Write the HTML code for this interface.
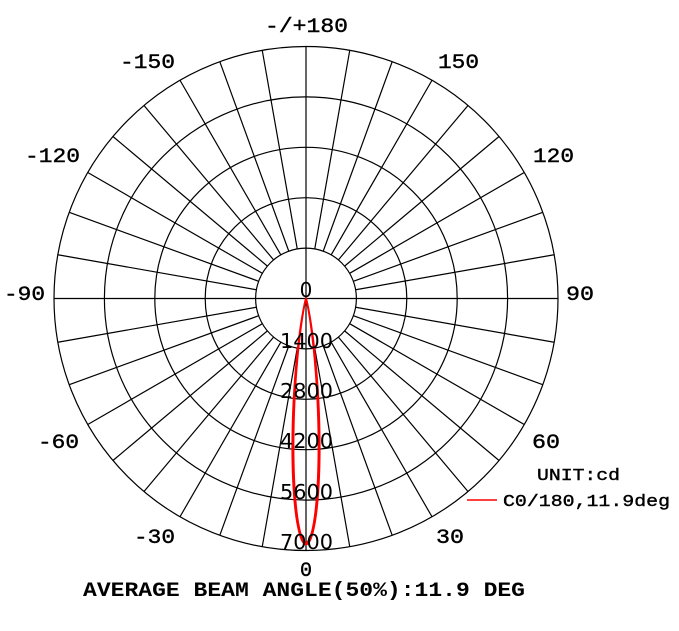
<!DOCTYPE html>
<html><head><meta charset="utf-8"><style>
html,body{margin:0;padding:0;background:#fff;}
svg{display:block;}
.t{font-family:"Liberation Mono","DejaVu Sans Mono",monospace;font-size:20px;fill:#000;stroke:#000;stroke-width:0.4;}
.r{font-family:"DejaVu Sans","Liberation Sans",sans-serif;font-size:20px;fill:#000;}
.b{font-family:"Liberation Mono",monospace;font-size:20px;font-weight:bold;fill:#000;}
</style></head><body>
<svg id="s" width="679" height="631" viewBox="0 0 679 631" xmlns="http://www.w3.org/2000/svg">
<g id="grid" stroke="#000" stroke-width="1.2" fill="none"></g>
<g id="curves" stroke="#f00" stroke-width="1.8" fill="none"></g>
<text class="t" x="265" y="32" textLength="83" lengthAdjust="spacingAndGlyphs">-/+180</text>
<text class="t" x="120" y="68" textLength="55" lengthAdjust="spacingAndGlyphs">-150</text>
<text class="t" x="438" y="68" textLength="41" lengthAdjust="spacingAndGlyphs">150</text>
<text class="t" x="25" y="162" textLength="55" lengthAdjust="spacingAndGlyphs">-120</text>
<text class="t" x="533" y="162" textLength="41" lengthAdjust="spacingAndGlyphs">120</text>
<text class="t" x="4" y="300" textLength="41" lengthAdjust="spacingAndGlyphs">-90</text>
<text class="t" x="566" y="300" textLength="28" lengthAdjust="spacingAndGlyphs">90</text>
<text class="t" x="38" y="448" textLength="41" lengthAdjust="spacingAndGlyphs">-60</text>
<text class="t" x="532" y="448" textLength="28" lengthAdjust="spacingAndGlyphs">60</text>
<text class="t" x="134" y="543" textLength="41" lengthAdjust="spacingAndGlyphs">-30</text>
<text class="t" x="436" y="543" textLength="28" lengthAdjust="spacingAndGlyphs">30</text>
<text class="t" x="306" y="576" text-anchor="middle">0</text>
<text class="r" x="306" y="297" text-anchor="middle">0</text>
<text class="r" x="280" y="348" textLength="53" lengthAdjust="spacingAndGlyphs">1400</text>
<text class="r" x="280" y="398" textLength="53" lengthAdjust="spacingAndGlyphs">2800</text>
<text class="r" x="280" y="448" textLength="53" lengthAdjust="spacingAndGlyphs">4200</text>
<text class="r" x="280" y="499" textLength="53" lengthAdjust="spacingAndGlyphs">5600</text>
<text class="r" x="280" y="549" textLength="53" lengthAdjust="spacingAndGlyphs">7000</text>
<text class="t" x="537" y="480" style="font-size:17px" textLength="83" lengthAdjust="spacingAndGlyphs">UNIT:cd</text>
<line x1="467" y1="500" x2="497" y2="500" stroke="#f00" stroke-width="1.5"/>
<text class="t" x="503" y="506" style="font-size:17px" textLength="167" lengthAdjust="spacingAndGlyphs">C0/180,11.9deg</text>
<text class="b" x="83" y="596" textLength="442" lengthAdjust="spacingAndGlyphs">AVERAGE BEAM ANGLE(50%):11.9 DEG</text>
</svg>
<script>
var cx=306,cy=298.5,R=252,ns="http://www.w3.org/2000/svg";
var g=document.getElementById('grid'),c=document.getElementById('curves');
function el(p,n,a){var e=document.createElementNS(ns,n);for(var k in a)e.setAttribute(k,a[k]);p.appendChild(e);return e;}
for(var i=1;i<=5;i++)el(g,'circle',{cx:cx,cy:cy,r:R*i/5});
for(var d=0;d<360;d+=10){var a=d*Math.PI/180,r0=(d%90==0)?0:R/5;
el(g,'line',{x1:cx+r0*Math.sin(a),y1:cy+r0*Math.cos(a),x2:cx+R*Math.sin(a),y2:cy+R*Math.cos(a)});}
function lobe(max,half){var p=[];for(var t=-25;t<=25;t+=0.25){var a=t*Math.PI/180;var r=max*Math.exp(-Math.pow(t/half,2)*Math.LN2);
p.push((cx+r*Math.sin(a)).toFixed(2)+','+(cy+r*Math.cos(a)).toFixed(2));}
el(c,'polyline',{points:p.join(' ')});}
lobe(246,6.2);lobe(244,5.7);
</script>
</body></html>
